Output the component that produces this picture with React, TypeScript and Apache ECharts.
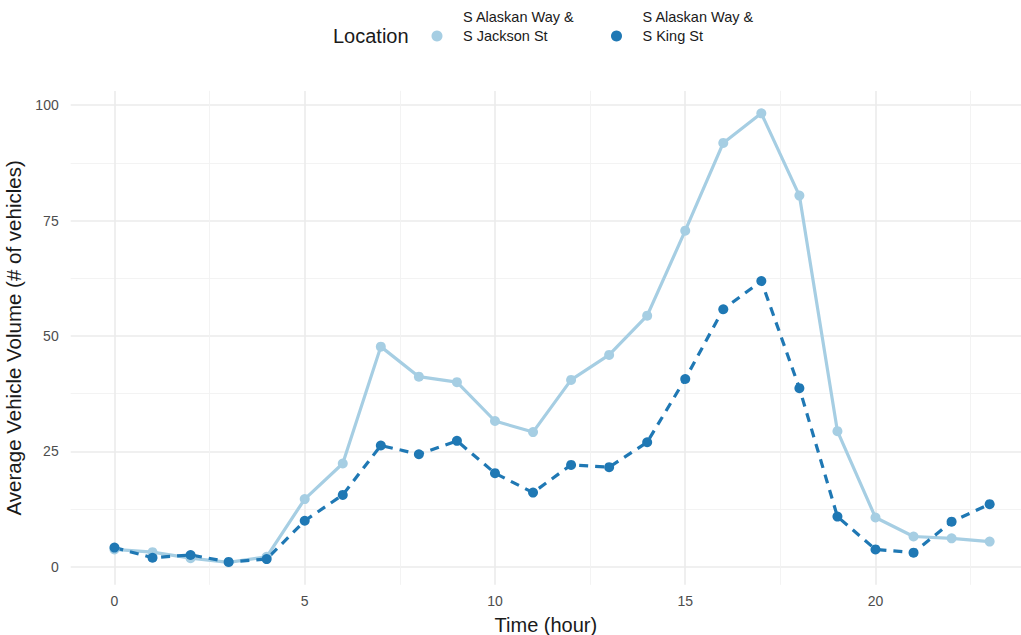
import React, { useEffect, useRef } from "react";
import * as echarts from "echarts";

const hours = [0, 1, 2, 3, 4, 5, 6, 7, 8, 9, 10, 11, 12, 13, 14, 15, 16, 17, 18, 19, 20, 21, 22, 23];
const jackson = [3.8, 3.2, 1.9, 1.0, 2.2, 14.7, 22.4, 47.7, 41.2, 40.0, 31.6, 29.2, 40.5, 45.9, 54.4, 72.8, 91.8, 98.2, 80.4, 29.4, 10.7, 6.6, 6.2, 5.5];
const king = [4.2, 2.0, 2.6, 1.1, 1.7, 10.0, 15.6, 26.3, 24.4, 27.3, 20.3, 16.1, 22.1, 21.6, 27.0, 40.7, 55.8, 61.9, 38.7, 10.9, 3.8, 3.1, 9.8, 13.6];
const seriesNames = ["S Alaskan Way &\nS Jackson St", "S Alaskan Way &\nS King St"];
const xTicks = [0, 5, 10, 15, 20];
const xMinor = [2.5, 7.5, 12.5, 17.5, 22.5];
const yTicks = [0, 25, 50, 75, 100];
const yMinor = [12.5, 37.5, 62.5, 87.5];

const FONT = "Liberation Sans, Arial, Helvetica, sans-serif";
const LIGHT = "#a6cee3";
const DARK = "#1f78b4";

export default function App() {
  const ref = useRef<HTMLDivElement>(null);
  useEffect(() => {
    if (!ref.current) return;
    const chart = echarts.init(ref.current, undefined, { renderer: "svg" });
    const xMin = -1.15, xMax = 23.824, yMin = -3.86, yMax = 103.06;
    const gridMajor = { show: true, lineStyle: { color: "#ebebeb", width: 1.6 } };
    const gridMinor = { show: true, lineStyle: { color: "#f2f2f2", width: 0.9 } };
    const legendBase = {
      top: 7.5,
      padding: 0,
      icon: "circle",
      itemWidth: 11,
      itemHeight: 11,
      formatter: (n: string) => n + "\n",
      textStyle: { fontFamily: FONT, fontSize: 14.5, color: "#1a1a1a", lineHeight: 19, padding: [0, 0, 0, 15.5] },
    };
    chart.setOption({
      animation: false,
      backgroundColor: "#ffffff",
      textStyle: { fontFamily: FONT },
      title: {
        text: "Location",
        left: 333,
        top: 26,
        padding: 0,
        textStyle: { fontFamily: FONT, fontSize: 20, fontWeight: "normal", color: "#1a1a1a" },
      },
      legend: [
        { ...legendBase, data: [seriesNames[0]], left: 431.5 },
        { ...legendBase, data: [seriesNames[1]], left: 611 },
      ],
      grid: { left: 70.7, right: 0, top: 90.9, bottom: 50.2, containLabel: false, outerBoundsMode: "none" },
      xAxis: [
        {
          type: "value",
          min: xMin,
          max: xMax,
          axisLine: { show: false },
          axisTick: { show: false, customValues: xTicks },
          axisLabel: { customValues: xTicks, color: "#4d4d4d", fontSize: 14, margin: 9, fontFamily: FONT },
          splitLine: gridMajor,
          name: "Time (hour)",
          nameLocation: "middle",
          nameGap: 30,
          nameTextStyle: { fontFamily: FONT, fontSize: 20, color: "#1a1a1a" },
        },
        {
          type: "value",
          min: xMin,
          max: xMax,
          position: "bottom",
          axisLine: { show: false },
          axisTick: { show: false, customValues: xMinor },
          axisLabel: { show: false, customValues: xMinor },
          splitLine: gridMinor,
        },
      ],
      yAxis: [
        {
          type: "value",
          min: yMin,
          max: yMax,
          axisLine: { show: false },
          axisTick: { show: false, customValues: yTicks },
          axisLabel: { customValues: yTicks, color: "#4d4d4d", fontSize: 14, margin: 12, fontFamily: FONT },
          splitLine: gridMajor,
          name: "Average Vehicle Volume (# of vehicles)",
          nameLocation: "middle",
          nameGap: 41,
          nameTextStyle: { fontFamily: FONT, fontSize: 20.5, color: "#1a1a1a" },
        },
        {
          type: "value",
          min: yMin,
          max: yMax,
          position: "left",
          axisLine: { show: false },
          axisTick: { show: false, customValues: yMinor },
          axisLabel: { show: false, customValues: yMinor },
          splitLine: gridMinor,
        },
      ],
      series: [
        {
          name: seriesNames[0],
          type: "line",
          data: hours.map((h, i) => [h, jackson[i]]),
          symbol: "circle",
          symbolSize: 10,
          itemStyle: { color: LIGHT },
          lineStyle: { color: LIGHT, width: 3.2 },
        },
        {
          name: seriesNames[1],
          type: "line",
          data: hours.map((h, i) => [h, king[i]]),
          symbol: "circle",
          symbolSize: 10,
          itemStyle: { color: DARK },
          lineStyle: { color: DARK, width: 3.2, type: [9, 7] },
        },
      ],
    });
    return () => chart.dispose();
  }, []);
  return <div ref={ref} style={{ width: 1021, height: 635, position: "absolute", left: 0, top: 0 }} />;
}
